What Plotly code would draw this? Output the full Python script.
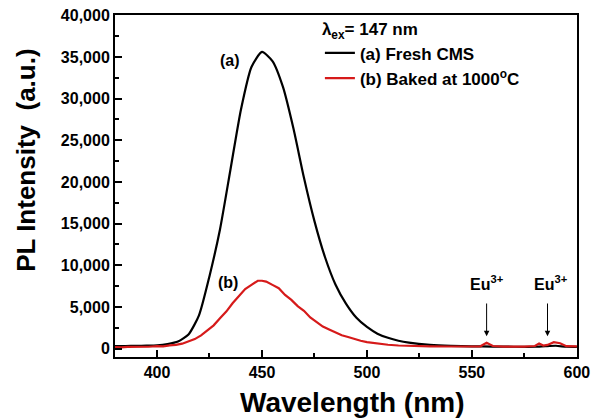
import plotly.graph_objects as go

# Black curve: (a) Fresh CMS
wl_a = [380, 385, 390, 395, 400, 405, 410, 415, 420, 425, 430, 435, 440, 445, 450,
        455, 460, 465, 470, 475, 480, 485, 490, 495, 500, 505, 510, 515, 520, 530,
        540, 550, 560, 570, 580, 585, 590, 595, 600]
pl_a = [300, 320, 340, 360, 400, 550, 850, 1700, 4000, 8700, 14300, 21500, 28700, 33800, 35600,
        34500, 31400, 26400, 20500, 15300, 11000, 7700, 5400, 3700, 2600, 1800, 1300, 950, 720, 450,
        330, 280, 250, 230, 230, 300, 350, 230, 220]

# Red curve: (b) Baked at 1000 C
wl_b = [380, 383, 386, 390, 393, 396, 400, 403, 406, 409, 412, 415, 418, 421, 424, 427, 430,
        433, 436, 439, 442, 445, 448, 450, 452, 455, 458, 461, 464, 467, 470, 473, 476, 479,
        482, 485, 488, 491, 494, 497, 500, 505, 510, 515, 520, 525, 530, 540, 550, 554, 557,
        560, 565, 570, 575, 580, 582, 584, 586, 589, 592, 595, 600]
pl_b = [200, 160, 220, 190, 250, 230, 300, 280, 400, 450, 600, 850, 1150, 1600, 2150, 2800, 3650,
        4450, 5450, 6250, 7150, 7650, 8150, 8150, 8050, 7650, 7250, 6450, 5850, 5100, 4550, 3750, 3250, 2650,
        2300, 1950, 1600, 1400, 1150, 950, 780, 600, 470, 380, 330, 300, 280, 260, 250, 280, 700,
        320, 250, 240, 250, 320, 620, 380, 450, 780, 650, 300, 280]

x_ticks = [400, 450, 500, 550, 600]
y_ticks = [0, 5000, 10000, 15000, 20000, 25000, 30000, 35000, 40000]

FONT = "Liberation Sans, Arial, sans-serif"

fig = go.Figure()
fig.add_trace(go.Scatter(x=wl_a, y=pl_a, mode="lines", name="(a) Fresh CMS",
                         line=dict(color="black", width=2.2, shape="spline", smoothing=0.6)))
fig.add_trace(go.Scatter(x=wl_b, y=pl_b, mode="lines", name="(b) Baked at 1000<sup>o</sup>C",
                         line=dict(color="#d61a1a", width=2.2)))

# curve labels
for txt, xx, yy in [("(a)", 434.8, 34600), ("(b)", 434.0, 7900),
                    ("Eu<sup>3+</sup>", 557, 7900), ("Eu<sup>3+</sup>", 587.6, 7900)]:
    fig.add_annotation(x=xx, y=yy, text=txt, showarrow=False,
                       font=dict(family=FONT, size=16, color="black", weight="bold"))
# arrows
for xx in [557, 586]:
    fig.add_annotation(x=xx, y=1500, ax=xx, ay=5600, axref="x", ayref="y", text="",
                       showarrow=True, arrowhead=2, arrowsize=1.1, arrowwidth=1, arrowcolor="black")

# axis titles
fig.add_annotation(xref="paper", yref="paper", x=0.514, y=-0.134, text="Wavelength (nm)",
                   showarrow=False, xanchor="center", yanchor="middle",
                   font=dict(family=FONT, size=28, color="black", weight="bold"))
fig.add_annotation(xref="paper", yref="paper", x=-0.193, y=0.576, text="PL Intensity  (a.u.)",
                   showarrow=False, textangle=-90, xanchor="center", yanchor="middle",
                   font=dict(family=FONT, size=26, color="black", weight="bold"))

# page body has an 8px margin, so the figure is 8px smaller and margins shifted
fig.update_layout(
    width=595, height=410,
    margin=dict(l=107, r=26, t=7, b=61, autoexpand=False),
    paper_bgcolor="white", plot_bgcolor="white",
    font=dict(family=FONT, color="black"),
    showlegend=True,
    legend=dict(x=0.4435, y=1.005, xanchor="left", yanchor="top", bgcolor="rgba(0,0,0,0)",
                font=dict(family=FONT, size=17, color="black", weight="bold"),
                title=dict(text="λ<sub>ex</sub>= 147 nm",
                           font=dict(family=FONT, size=17, color="black", weight="bold")),
                tracegroupgap=0, itemwidth=30),
    xaxis=dict(range=[380, 600.05], tickvals=x_ticks, ticks="inside", ticklen=7, tickwidth=1.5,
               tickcolor="black", showline=True, linecolor="black", linewidth=2, mirror=True,
               showgrid=False, zeroline=False, automargin=False, ticklabeloverflow="allow",
               minor=dict(dtick=25, ticks="inside", ticklen=4, tickwidth=1.5, tickcolor="black", tick0=375),
               tickfont=dict(family=FONT, size=16, color="black", weight="bold")),
    yaxis=dict(range=[-1000, 40030], tickvals=y_ticks, tickformat=",d", ticks="inside", ticklen=7,
               tickwidth=1.5, tickcolor="black", showline=True, linecolor="black", linewidth=2,
               mirror=True, showgrid=False, zeroline=False, automargin=False, ticklabeloverflow="allow",
               minor=dict(dtick=2500, ticks="inside", ticklen=4, tickwidth=1.5, tickcolor="black", tick0=0),
               tickfont=dict(family=FONT, size=16, color="black", weight="bold")),
)

fig.write_html("out.html")
